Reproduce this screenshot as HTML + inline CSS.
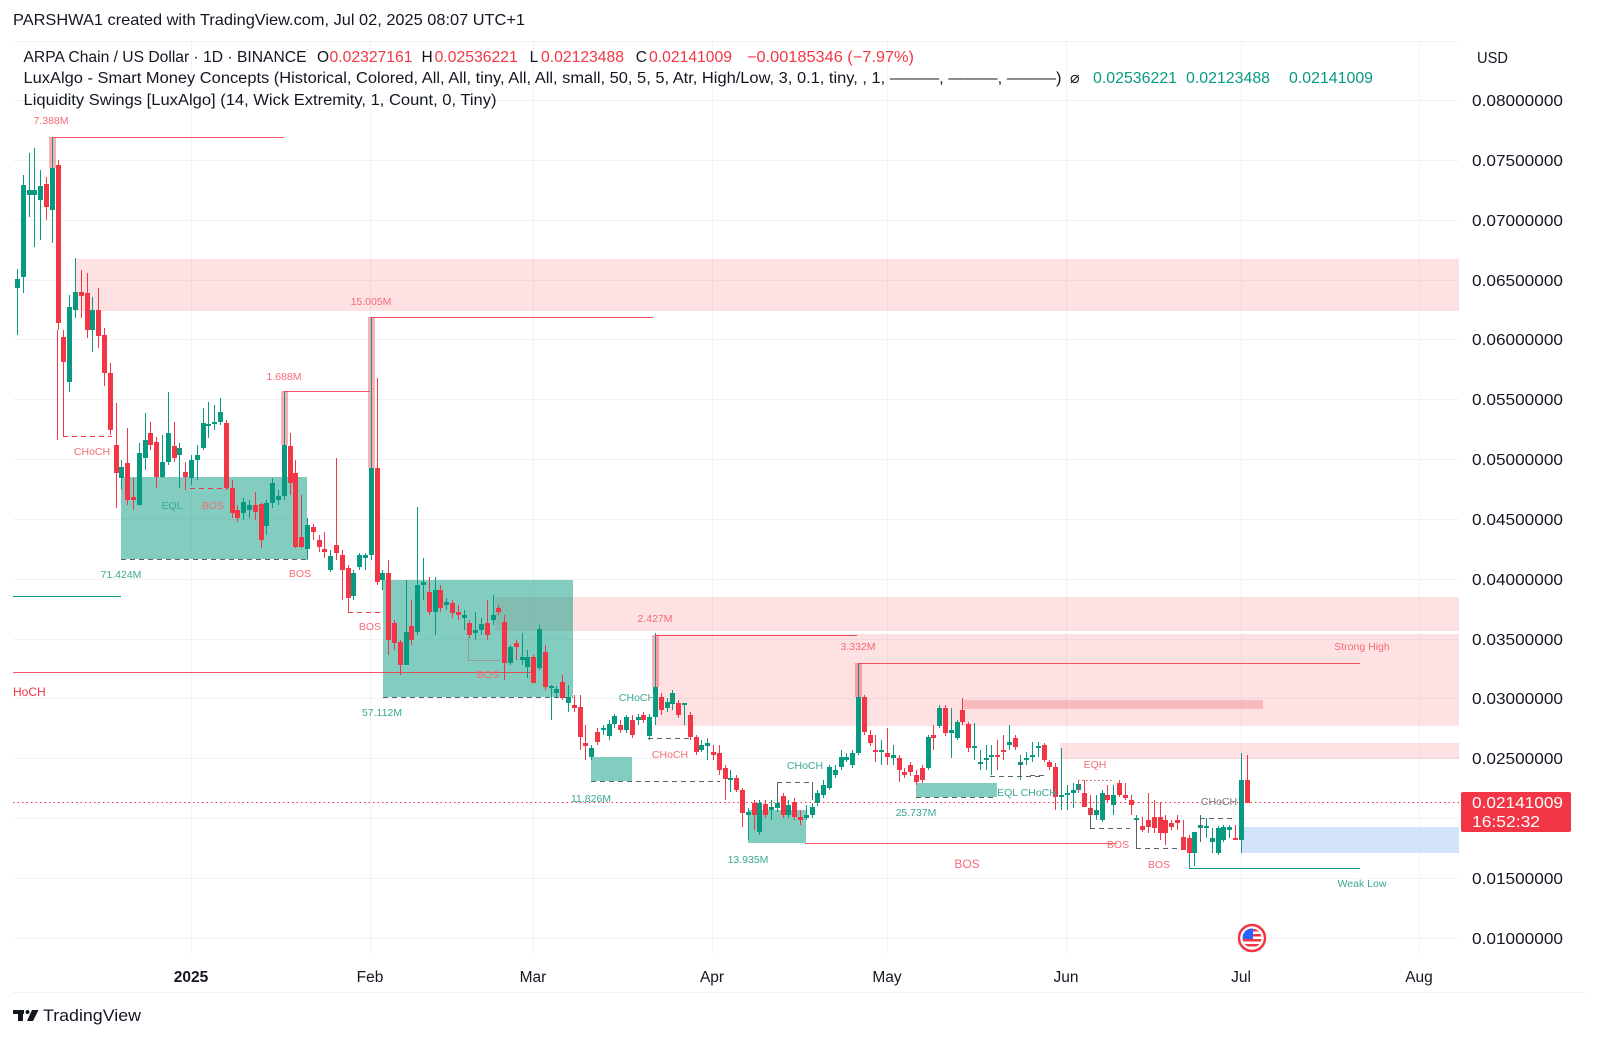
<!DOCTYPE html>
<html><head><meta charset="utf-8">
<style>
html,body{margin:0;padding:0;background:#fff;}
svg{display:block;}
text{font-family:"Liberation Sans",Arial,"DejaVu Sans",sans-serif;}
</style></head>
<body>
<svg id="c" width="1600" height="1038" viewBox="0 0 1600 1038" xmlns="http://www.w3.org/2000/svg">
<rect width="1600" height="1038" fill="#fff"/>

<!-- grid -->
<g stroke="#f2f3f6" stroke-width="1" fill="none">
<path d="M13,41.5H1459M13,100.5H1459M13,160.5H1459M13,220.5H1459M13,280.5H1459M13,339.5H1459M13,399.5H1459M13,459.5H1459M13,519.5H1459M13,579.5H1459M13,639.5H1459M13,698.5H1459M13,758.5H1459M13,818.5H1459M13,878.5H1459M13,938.5H1459"/>
<path d="M191.5,41V953M370.5,41V953M533.5,41V953M712.5,41V953M887.5,41V953M1066.5,41V953M1241.5,41V953M1419.5,41V953"/>
<path d="M13,992.5H1585" stroke="#f0f1f4"/>
</g>

<!-- zones -->
<g>
<rect x="76" y="259" width="1383" height="52" fill="rgba(242,54,69,0.15)"/>
<rect x="495" y="597" width="964" height="34" fill="rgba(242,54,69,0.15)"/>
<rect x="656" y="634" width="803" height="92" fill="rgba(242,54,69,0.15)"/>
<rect x="962" y="700" width="301" height="9" fill="rgba(242,54,69,0.22)"/>
<rect x="1060" y="743" width="399" height="16" fill="rgba(242,54,69,0.15)"/>
<rect x="1242" y="827" width="217" height="26" fill="#d3e3fa"/>
<rect x="121" y="477" width="186" height="82" fill="rgba(8,153,129,0.5)"/>
<rect x="383" y="580" width="190" height="117" fill="rgba(8,153,129,0.5)"/>
<rect x="591" y="757" width="41" height="24" fill="rgba(8,153,129,0.5)"/>
<rect x="748" y="810" width="58" height="33" fill="rgba(8,153,129,0.5)"/>
<rect x="916" y="783" width="81" height="14" fill="rgba(8,153,129,0.5)"/>
</g>

<!-- liquidity swing shades -->
<g fill="rgba(242,54,69,0.4)">
<rect x="49" y="137" width="7" height="31"/>
<rect x="281" y="391" width="7" height="54"/>
<rect x="368" y="317" width="7" height="151"/>
<rect x="652" y="635" width="7" height="52"/>
<rect x="855" y="663" width="7" height="34"/>
</g>

<g id="candles"></g>

<!-- structure lines -->
<g fill="none" stroke-width="1">
<path d="M52,137.5H284M284,391.5H370M371,317.5H653M655,635.5H857M858,663.5H1360M13,672.5H536M805,843.5H1117" stroke="#f23645" stroke-opacity="0.85"/>
<path d="M63.5,362V436M57.5,330V440M348.5,598V612" stroke="#f23645"/>
<path d="M63,436.5H112M348,612.5H382M190,488.5H228" stroke="#f23645" stroke-dasharray="5 4"/>
<path d="M121,559.5H307M383,697.5H573M591,781.5H720M648,738.5H690M777,782.5H812M916,797.5H997M990,776.5H1040M1030,775.5H1047M1090,828.5H1130M1136,848.5H1180M1200,818.5H1235" stroke="#5d606b" stroke-dasharray="5 4"/>
<path d="M777.5,782V800M812.5,782V800M1020.5,760V776M1090.5,808V828M1136.5,820V848M1200.5,818V842" stroke="#5d606b"/>
<path d="M468,660.5H500M468.5,637V660" stroke="#9598a1"/>
<path d="M1078,780.5H1113" stroke="#b35a5a" stroke-dasharray="1.5 2.5"/>
<path d="M1078.5,780V793" stroke="#b35a5a"/>
<path d="M13,596.5H121M1189,868.5H1360M1189.5,853V868" stroke="#089981"/>
<path d="M13,802.5H1459" stroke="#f23645" stroke-dasharray="1.5 3"/>
</g>

<!-- small labels -->
<g font-size="10.5" text-anchor="middle" fill="#f56b76">
<text x="51" y="124">7.388M</text>
<text x="284" y="380">1.688M</text>
<text x="371" y="305">15.005M</text>
<text x="655" y="622">2.427M</text>
<text x="858" y="650">3.332M</text>
<text x="92" y="455">CHoCH</text>
<text x="213" y="509">BOS</text>
<text x="300" y="577">BOS</text>
<text x="370" y="630">BOS</text>
<text x="488" y="678">BOS</text>
<text x="670" y="758">CHoCH</text>
<text x="1095" y="768">EQH</text>
<text x="1118" y="848">BOS</text>
<text x="1159" y="868">BOS</text>
<text x="1362" y="650">Strong High</text>
<text x="967" y="868" font-size="12">BOS</text>
</g>
<text x="13" y="696" font-size="12" fill="#f23645">HoCH</text>
<g font-size="10.5" text-anchor="middle" fill="#3aa894">
<text x="121" y="578">71.424M</text>
<text x="172" y="509">EQL</text>
<text x="382" y="716">57.112M</text>
<text x="637" y="701">CHoCH</text>
<text x="591" y="802">11.826M</text>
<text x="805" y="769">CHoCH</text>
<text x="748" y="863">13.935M</text>
<text x="916" y="816">25.737M</text>
<text x="1027" y="796">EQL CHoCH</text>
<text x="1362" y="887">Weak Low</text>
</g>
<text x="1219" y="805" font-size="10.5" text-anchor="middle" fill="#787b86">CHoCH</text>

<!-- event icon -->
<g>
<circle cx="1252" cy="938" r="13" fill="#fff" stroke="#f23645" stroke-width="2.5"/>
<clipPath id="fc"><circle cx="1252" cy="938" r="9.5"/></clipPath>
<g clip-path="url(#fc)">
<rect x="1242" y="928" width="20" height="20" fill="#fff"/>
<rect x="1242" y="929" width="20" height="2.5" fill="#f23645"/>
<rect x="1242" y="934" width="20" height="2.5" fill="#f23645"/>
<rect x="1242" y="939" width="20" height="2.5" fill="#f23645"/>
<rect x="1242" y="944" width="20" height="2.5" fill="#f23645"/>
<rect x="1242" y="928" width="11" height="11" fill="#2962ff"/>
</g>
</g>

<!-- header -->
<text x="13" y="25" font-size="16" fill="#131722" textLength="512" lengthAdjust="spacingAndGlyphs">PARSHWA1 created with TradingView.com, Jul 02, 2025 08:07 UTC+1</text>
<g font-size="15.5" fill="#131722">
<text x="23.5" y="62" textLength="283" lengthAdjust="spacingAndGlyphs">ARPA Chain / US Dollar · 1D · BINANCE</text>
<text x="317" y="62">O</text>
<text x="329.5" y="62" fill="#f23645" textLength="83" lengthAdjust="spacingAndGlyphs">0.02327161</text>
<text x="421.5" y="62">H</text>
<text x="434.7" y="62" fill="#f23645" textLength="83" lengthAdjust="spacingAndGlyphs">0.02536221</text>
<text x="529.6" y="62">L</text>
<text x="541" y="62" fill="#f23645" textLength="83" lengthAdjust="spacingAndGlyphs">0.02123488</text>
<text x="635.7" y="62">C</text>
<text x="649" y="62" fill="#f23645" textLength="83" lengthAdjust="spacingAndGlyphs">0.02141009</text>
<text x="747" y="62" fill="#f23645" textLength="167" lengthAdjust="spacingAndGlyphs">−0.00185346 (−7.97%)</text>
<text x="23.5" y="83" textLength="1038" lengthAdjust="spacingAndGlyphs">LuxAlgo - Smart Money Concepts (Historical, Colored, All, All, tiny, All, All, small, 50, 5, 5, Atr, High/Low, 3, 0.1, tiny, , 1, ———, ———, ———)</text>
<text x="1070" y="83" font-family="DejaVu Sans, sans-serif" font-size="16" fill="#131722">⌀</text>
<text x="1093" y="83" fill="#089981" textLength="84" lengthAdjust="spacingAndGlyphs">0.02536221</text>
<text x="1186" y="83" fill="#089981" textLength="84" lengthAdjust="spacingAndGlyphs">0.02123488</text>
<text x="1289" y="83" fill="#089981" textLength="84" lengthAdjust="spacingAndGlyphs">0.02141009</text>
<text x="23.5" y="105" textLength="473" lengthAdjust="spacingAndGlyphs">Liquidity Swings [LuxAlgo] (14, Wick Extremity, 1, Count, 0, Tiny)</text>
</g>

<!-- price axis -->
<g font-size="16" fill="#131722">
<text x="1477" y="63" textLength="31" lengthAdjust="spacingAndGlyphs">USD</text>
<text x="1472" y="106" textLength="91" lengthAdjust="spacingAndGlyphs">0.08000000</text>
<text x="1472" y="166" textLength="91" lengthAdjust="spacingAndGlyphs">0.07500000</text>
<text x="1472" y="226" textLength="91" lengthAdjust="spacingAndGlyphs">0.07000000</text>
<text x="1472" y="286" textLength="91" lengthAdjust="spacingAndGlyphs">0.06500000</text>
<text x="1472" y="345" textLength="91" lengthAdjust="spacingAndGlyphs">0.06000000</text>
<text x="1472" y="405" textLength="91" lengthAdjust="spacingAndGlyphs">0.05500000</text>
<text x="1472" y="465" textLength="91" lengthAdjust="spacingAndGlyphs">0.05000000</text>
<text x="1472" y="525" textLength="91" lengthAdjust="spacingAndGlyphs">0.04500000</text>
<text x="1472" y="585" textLength="91" lengthAdjust="spacingAndGlyphs">0.04000000</text>
<text x="1472" y="645" textLength="91" lengthAdjust="spacingAndGlyphs">0.03500000</text>
<text x="1472" y="704" textLength="91" lengthAdjust="spacingAndGlyphs">0.03000000</text>
<text x="1472" y="764" textLength="91" lengthAdjust="spacingAndGlyphs">0.02500000</text>
<text x="1472" y="884" textLength="91" lengthAdjust="spacingAndGlyphs">0.01500000</text>
<text x="1472" y="944" textLength="91" lengthAdjust="spacingAndGlyphs">0.01000000</text>
</g>
<rect x="1461" y="792" width="110" height="40" rx="2" fill="#f23645"/>
<text x="1472" y="808" font-size="16" fill="#fff" textLength="91" lengthAdjust="spacingAndGlyphs">0.02141009</text>
<text x="1472" y="827" font-size="16" fill="#fff" textLength="68" lengthAdjust="spacingAndGlyphs">16:52:32</text>

<!-- time axis -->
<g font-size="15.5" fill="#131722" text-anchor="middle">
<text x="191" y="982" font-weight="bold">2025</text>
<text x="370" y="982">Feb</text>
<text x="533" y="982">Mar</text>
<text x="712" y="982">Apr</text>
<text x="887" y="982">May</text>
<text x="1066" y="982">Jun</text>
<text x="1241" y="982">Jul</text>
<text x="1419" y="982">Aug</text>
</g>

<!-- logo -->
<g fill="#131722">
<rect x="13" y="1010" width="11" height="4"/>
<rect x="18" y="1010" width="5" height="11"/>
<circle cx="27.5" cy="1012" r="2"/>
<polygon points="32,1010 38.5,1010 33,1021 27,1021"/>
<text x="43" y="1021" font-size="17" textLength="98" lengthAdjust="spacingAndGlyphs">TradingView</text>
</g>
</svg>
<script>
var D="G,279,288,269,335;G,185,277,175,293;G,190,195,153,217;G,190,195,148,247;G,186,200,170,240;R,184,207,177,220;G,168,210,137,243;R,165,323,160,330;R,337,362,330,370;G,307,382,295,392;G,292,310,258,318;R,292,296,270,318;R,293,330,273,338;G,310,330,297,352;R,310,336,288,348;R,335,373,328,386;R,373,430,363,435;R,445,473,403,508;G,467,478,460,490;R,463,500,428,505;R,497,500,478,510;G,453,505,443,505;G,440,458,413,470;R,433,445,422,450;R,442,477,437,488;G,462,477,435,478;G,433,462,392,465;R,446,458,422,462;G,448,455,443,488;R,472,477,462,490;G,460,478,455,485;G,455,460,445,480;G,423,448,408,450;G,424,426,402,438;G,422,424,405,430;G,412,422,398,425;R,423,488,420,490;R,488,513,480,518;R,510,518,505,522;G,502,513,498,520;G,505,510,500,518;R,505,512,492,520;R,504,540,503,548;G,503,526,500,535;G,483,503,478,508;G,496,500,490,505;G,445,496,391,500;R,446,483,433,495;R,473,547,460,548;R,537,547,495,548;G,525,549,518,560;R,527,532,524,540;R,540,547,535,552;R,549,552,532,558;G,556,570,550,572;R,545,553,458,560;R,555,570,550,600;R,568,598,565,605;G,573,596,570,600;G,555,567,553,570;G,555,558,553,570;G,468,555,317,560;R,468,582,378,585;G,573,580,570,590;R,573,640,560,655;R,623,643,620,650;R,642,665,640,675;G,632,665,580,665;R,626,640,600,645;G,585,632,507,635;G,582,585,558,600;R,592,612,577,615;G,590,612,577,635;R,590,608,585,612;G,602,605,598,610;R,603,613,600,618;R,612,615,605,620;G,615,618,610,630;R,623,635,620,638;G,630,633,612,640;G,624,630,618,635;R,623,635,600,640;G,615,620,595,625;R,608,612,605,615;R,622,663,615,680;G,647,663,645,665;R,643,647,640,660;G,657,660,633,665;G,657,667,650,678;R,657,683,655,683;G,629,668,625,670;R,652,687,645,690;G,686,688,685,720;G,689,693,686,697;R,682,698,675,700;G,697,703,685,712;R,705,708,695,712;R,707,737,695,750;R,743,746,725,760;G,748,757,745,760;R,732,742,728,745;G,728,730,725,735;G,724,736,720,740;G,716,724,714,728;R,725,730,720,733;G,717,730,715,733;R,720,735,715,738;G,717,720,714,725;R,715,720,712,723;G,717,736,714,740;G,687,717,633,725;R,697,710,693,715;G,702,708,698,712;G,693,704,690,710;R,703,715,700,718;G,703,705,703,725;R,715,737,712,740;R,737,752,735,755;G,745,750,740,752;G,743,746,738,760;R,752,755,745,760;R,753,770,745,775;R,768,779,765,800;G,778,780,770,792;R,778,790,775,792;R,790,813,788,827;G,812,815,808,840;R,803,815,800,830;G,803,832,800,835;R,804,815,800,818;G,807,810,800,820;G,803,808,798,812;R,796,815,793,818;G,805,815,800,818;R,802,817,798,820;R,817,820,810,825;G,815,818,805,820;G,807,815,803,818;G,793,803,790,806;G,785,795,780,798;G,767,788,765,790;G,770,775,765,778;G,757,767,750,770;G,757,760,753,762;G,753,765,750,768;G,697,753,663,755;R,697,732,695,735;R,735,743,730,746;R,750,752,735,762;G,750,752,740,765;R,753,757,728,765;G,755,758,745,765;R,758,770,755,782;R,772,775,768,778;R,765,772,762,776;R,775,782,770,785;R,768,780,765,783;G,737,768,735,770;R,735,738,725,750;G,708,726,705,728;R,708,733,705,736;G,730,733,708,758;G,722,738,720,740;R,710,722,698,725;R,724,748,722,752;G,746,748,723,760;G,762,764,750,770;G,758,760,745,770;G,755,757,745,775;R,755,757,740,770;R,750,752,735,760;G,742,745,725,750;R,738,747,735,750;G,762,765,755,780;G,758,760,752,765;G,755,757,742,762;G,746,748,742,757;R,745,760,743,762;R,762,767,760,770;R,767,797,763,810;G,795,797,748,810;G,793,795,785,810;G,790,793,783,808;G,784,790,780,792;R,793,807,780,807;R,808,815,795,827;G,810,815,795,820;G,793,820,790,822;R,795,800,785,802;G,795,805,785,815;R,783,795,780,797;R,795,798,783,800;R,800,805,795,815;G,818,820,815,843;R,826,830,817,832;R,820,827,793,833;R,817,828,800,833;R,817,833,802,840;R,820,833,815,845;R,823,827,820,830;R,820,823,815,830;R,837,850,820,850;R,838,853,835,867;G,832,853,832,866;G,825,828,815,842;G,826,828,818,838;G,838,842,828,853;G,828,853,826,855;G,827,840,825,842;G,827,830,825,838;R,838,840,825,840;G,780,840,753,853;R,780,803,755,803";
var NS="http://www.w3.org/2000/svg";
var g=document.getElementById("candles");
D.split(";").forEach(function(r,i){
  var p=r.split(",");var col=p[0]=="G"?"#089981":"#f23645";
  var a=+p[1],b=+p[2],h=+p[3],l=+p[4];
  var X=Math.round(17+5.8*i);
  var ln=document.createElementNS(NS,"line");
  ln.setAttribute("x1",X+0.5);ln.setAttribute("x2",X+0.5);
  ln.setAttribute("y1",h);ln.setAttribute("y2",l);
  ln.setAttribute("stroke",col);ln.setAttribute("stroke-width","1");
  g.appendChild(ln);
  var rc=document.createElementNS(NS,"rect");
  rc.setAttribute("x",X-2);rc.setAttribute("y",a);
  rc.setAttribute("width",5);rc.setAttribute("height",Math.max(1,b-a));
  rc.setAttribute("fill",col);
  g.appendChild(rc);
});
</script>
</body></html>
